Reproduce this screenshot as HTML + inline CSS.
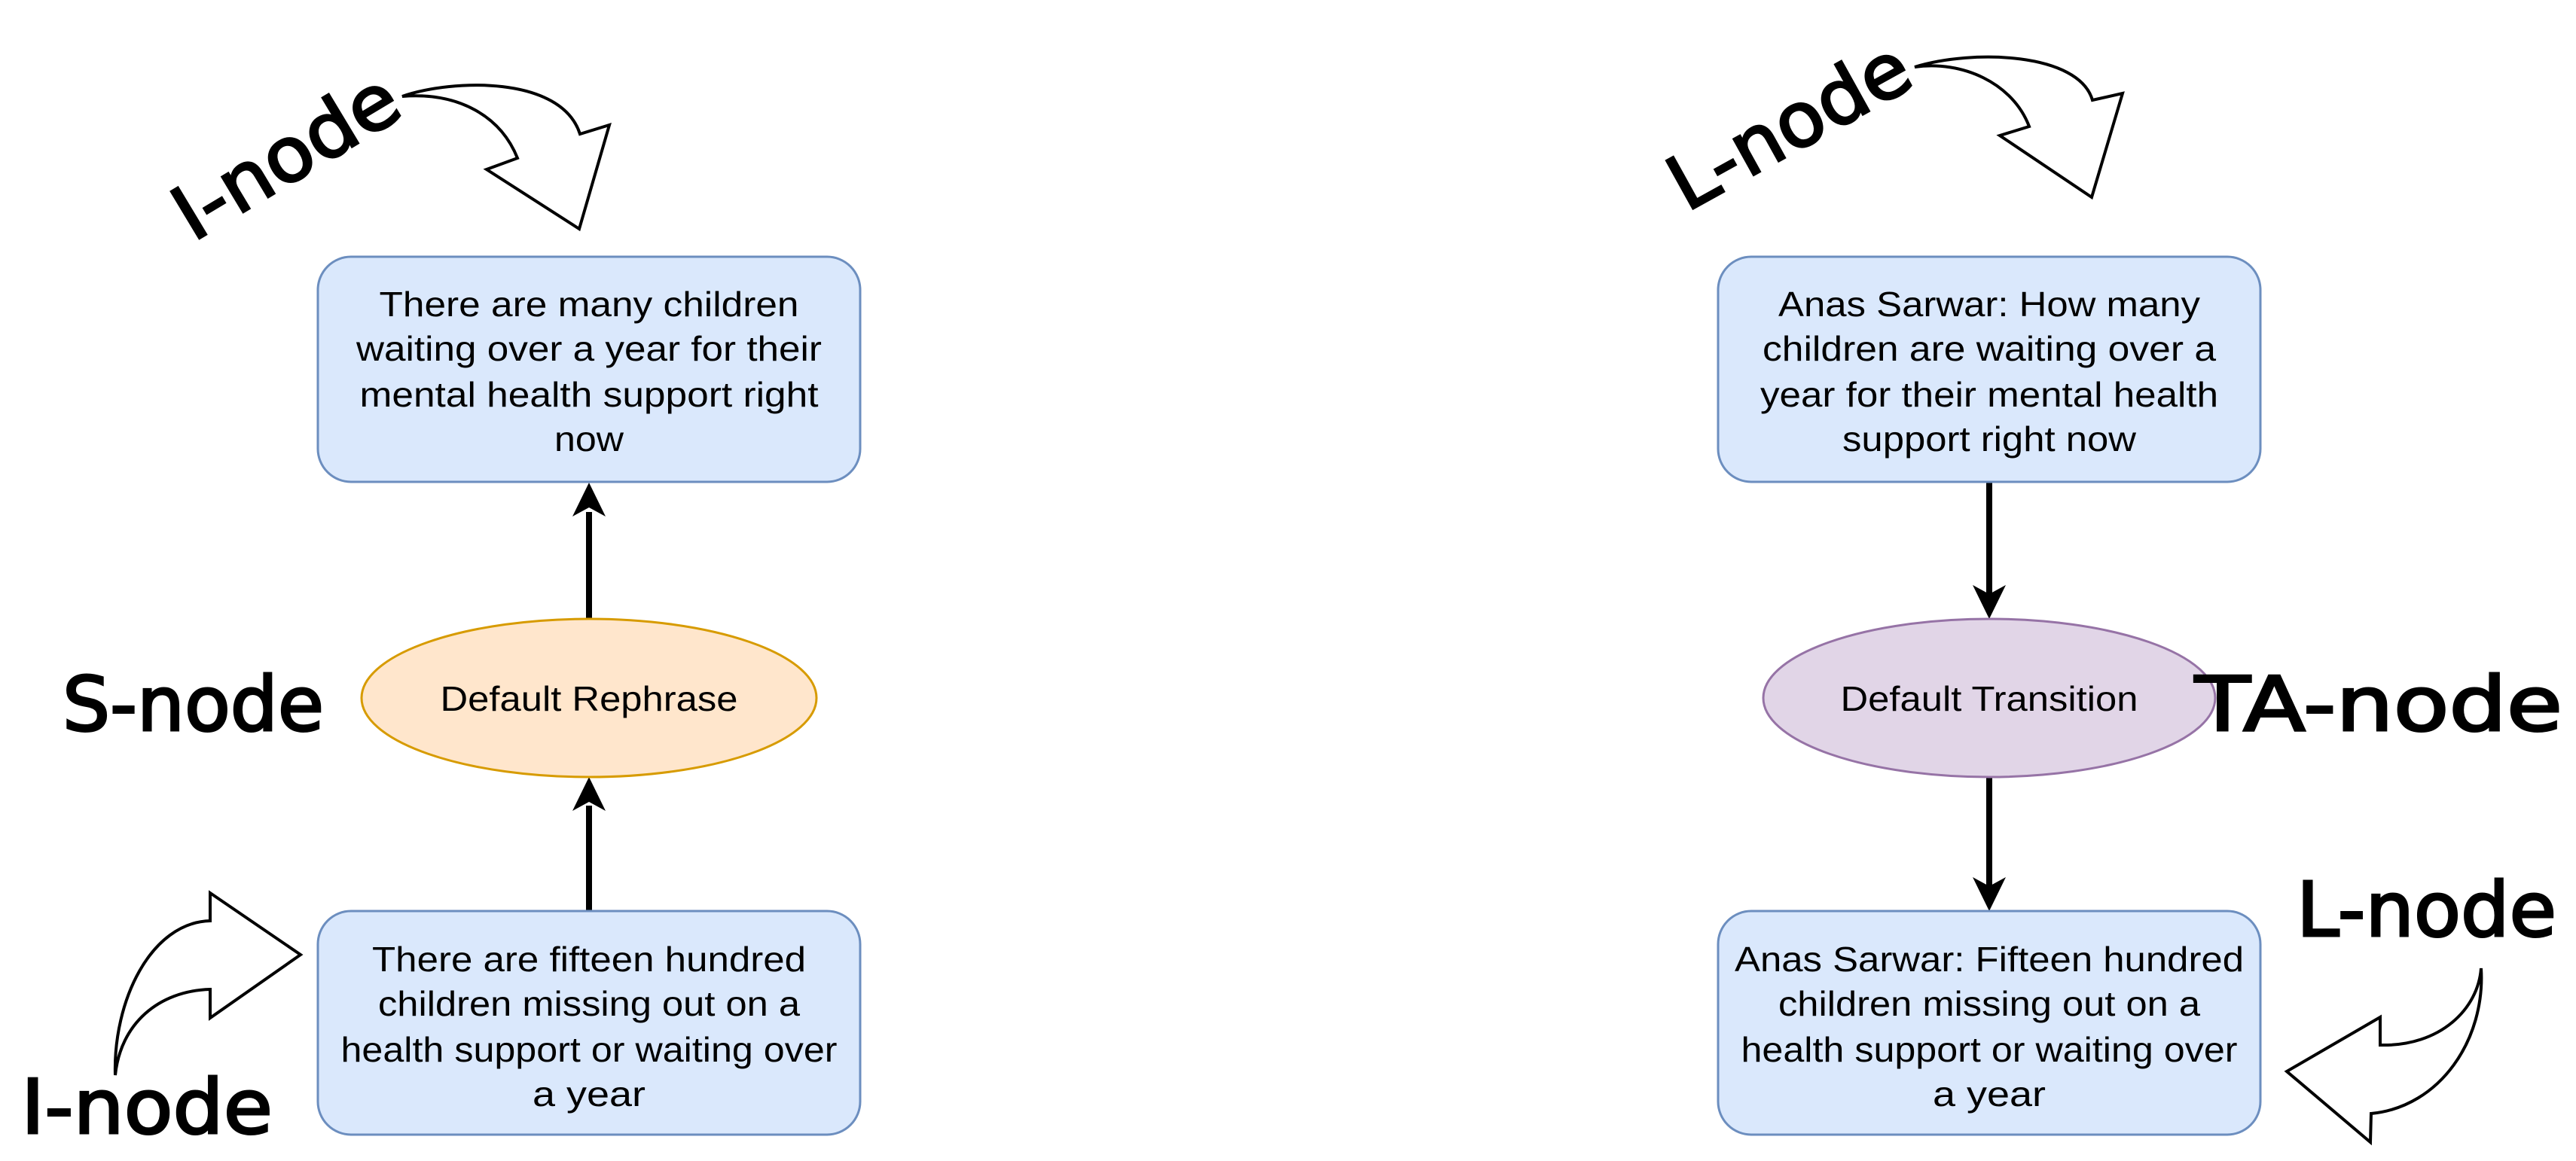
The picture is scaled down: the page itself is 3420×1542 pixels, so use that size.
<!DOCTYPE html>
<html><head><meta charset="utf-8"><style>
html,body{margin:0;padding:0;background:#fff;}
svg{display:block;}
.t{font-family:"Liberation Sans",Helvetica,sans-serif;font-size:46px;fill:#000;}
.h{font-family:"DejaVu Sans","Liberation Sans",sans-serif;font-size:100px;fill:#000;stroke:#000;stroke-width:3px;}
</style></head><body>
<svg width="3420" height="1542" viewBox="0 0 3420 1542" xmlns="http://www.w3.org/2000/svg">
<!-- left connectors -->
<line x1="782" y1="1210" x2="782" y2="1070" stroke="#000" stroke-width="8"/>
<polygon points="782,1032 760,1077 782,1065 804,1077" fill="#000"/>
<line x1="782" y1="822" x2="782" y2="680" stroke="#000" stroke-width="8"/>
<polygon points="782,641 760,686 782,674 804,686" fill="#000"/>
<!-- right connectors -->
<line x1="2641" y1="641" x2="2641" y2="790" stroke="#000" stroke-width="8"/>
<polygon points="2641,822 2619,777 2641,789 2663,777" fill="#000"/>
<line x1="2641" y1="1032" x2="2641" y2="1178" stroke="#000" stroke-width="8"/>
<polygon points="2641,1210 2619,1165 2641,1177 2663,1165" fill="#000"/>

<!-- left boxes -->
<rect x="422" y="341" width="720" height="299" rx="44" fill="#dae8fc" stroke="#6c8ebf" stroke-width="3"/>
<text class="t" text-anchor="middle" x="782" y="420" textLength="557" lengthAdjust="spacingAndGlyphs">There are many children</text>
<text class="t" text-anchor="middle" x="782" y="479" textLength="618" lengthAdjust="spacingAndGlyphs">waiting over a year for their</text>
<text class="t" text-anchor="middle" x="782" y="540" textLength="609" lengthAdjust="spacingAndGlyphs">mental health support right</text>
<text class="t" text-anchor="middle" x="782" y="599" textLength="92" lengthAdjust="spacingAndGlyphs">now</text>

<ellipse cx="782" cy="927" rx="302" ry="105" fill="#ffe6cc" stroke="#d79b00" stroke-width="3"/>
<text class="t" text-anchor="middle" x="782" y="944" textLength="395" lengthAdjust="spacingAndGlyphs">Default Rephrase</text>

<rect x="422" y="1210" width="720" height="297" rx="44" fill="#dae8fc" stroke="#6c8ebf" stroke-width="3"/>
<text class="t" text-anchor="middle" x="782" y="1290" textLength="576" lengthAdjust="spacingAndGlyphs">There are fifteen hundred</text>
<text class="t" text-anchor="middle" x="782" y="1349" textLength="560" lengthAdjust="spacingAndGlyphs">children missing out on a</text>
<text class="t" text-anchor="middle" x="782" y="1410" textLength="659" lengthAdjust="spacingAndGlyphs">health support or waiting over</text>
<text class="t" text-anchor="middle" x="782" y="1469" textLength="150" lengthAdjust="spacingAndGlyphs">a year</text>

<!-- right boxes -->
<rect x="2281" y="341" width="720" height="299" rx="44" fill="#dae8fc" stroke="#6c8ebf" stroke-width="3"/>
<text class="t" text-anchor="middle" x="2641" y="420" textLength="560" lengthAdjust="spacingAndGlyphs">Anas Sarwar: How many</text>
<text class="t" text-anchor="middle" x="2641" y="479" textLength="602" lengthAdjust="spacingAndGlyphs">children are waiting over a</text>
<text class="t" text-anchor="middle" x="2641" y="540" textLength="608" lengthAdjust="spacingAndGlyphs">year for their mental health</text>
<text class="t" text-anchor="middle" x="2641" y="599" textLength="390" lengthAdjust="spacingAndGlyphs">support right now</text>

<ellipse cx="2641" cy="927" rx="300" ry="105" fill="#e1d5e7" stroke="#9673a6" stroke-width="3"/>
<text class="t" text-anchor="middle" x="2641" y="944" textLength="395" lengthAdjust="spacingAndGlyphs">Default Transition</text>

<rect x="2281" y="1210" width="720" height="297" rx="44" fill="#dae8fc" stroke="#6c8ebf" stroke-width="3"/>
<text class="t" text-anchor="middle" x="2641" y="1290" textLength="676" lengthAdjust="spacingAndGlyphs">Anas Sarwar: Fifteen hundred</text>
<text class="t" text-anchor="middle" x="2641" y="1349" textLength="560" lengthAdjust="spacingAndGlyphs">children missing out on a</text>
<text class="t" text-anchor="middle" x="2641" y="1410" textLength="659" lengthAdjust="spacingAndGlyphs">health support or waiting over</text>
<text class="t" text-anchor="middle" x="2641" y="1469" textLength="150" lengthAdjust="spacingAndGlyphs">a year</text>

<!-- block arrows -->
<g fill="#fff" stroke="#000" stroke-width="4" stroke-linejoin="miter">
<path d="M534,128 C600,105 745,100 770,178 L809,166 L769,304 L646,225 L687,210 C665,155 610,122 534,128 Z"/>
<path d="M153,1428 C150,1330 200,1225 279,1223 L279,1186 L399,1268 L279,1352 L279,1314 C210,1316 160,1360 153,1428 Z"/>
<path d="M2542,89 C2620,65 2760,70 2778,133 L2818,124 L2777,262 L2655,180 L2694,168 C2672,110 2605,80 2542,89 Z"/>
<path d="M3294,1286 C3300,1380 3240,1470 3148,1479 L3147,1517 L3036,1423 L3160,1351 L3160,1388 C3240,1390 3290,1340 3294,1286 Z"/>
</g>

<!-- handwritten labels -->
<text class="h" x="83" y="970" textLength="347" lengthAdjust="spacingAndGlyphs">S-node</text>
<text class="h" x="2914" y="970" textLength="488" lengthAdjust="spacingAndGlyphs">TA-node</text>
<text class="h" x="28" y="1505" textLength="334" lengthAdjust="spacingAndGlyphs">I-node</text>
<text class="h" x="3049" y="1243" textLength="345" lengthAdjust="spacingAndGlyphs">L-node</text>
<text class="h" x="256" y="322" textLength="330" lengthAdjust="spacingAndGlyphs" transform="rotate(-31 256 322)">I-node</text>
<text class="h" x="2239" y="282" textLength="350" lengthAdjust="spacingAndGlyphs" transform="rotate(-29 2239 282)">L-node</text>
</svg>
</body></html>
